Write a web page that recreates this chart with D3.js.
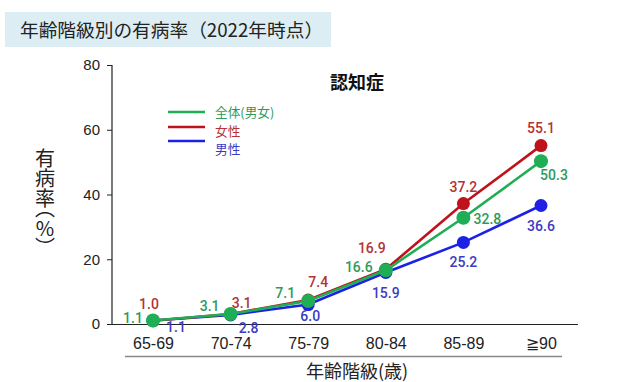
<!DOCTYPE html>
<html><head><meta charset="utf-8">
<script src="https://cdn.jsdelivr.net/npm/d3@7"></script>
<style>
html,body{margin:0;padding:0;background:#fff;}
svg{display:block;}
</style></head>
<body>
<script>
const categories = ["65-69","70-74","75-79","80-84","85-89","≧90"];
const totalValues = [1.1, 3.1, 7.1, 16.6, 32.8, 50.3];
const femaleValues = [1.0, 3.1, 7.4, 16.9, 37.2, 55.1];
const maleValues = [1.1, 2.8, 6.0, 15.9, 25.2, 36.6];
const yTicks = [0, 20, 40, 60, 80];
const seriesNames = ["全体(男女)", "女性", "男性"];

// label offsets (layout only)
const totalOffsets = [[-20,-2],[-21,-8],[-23,-8],[-27,-3],[24,1],[13,14]];
const femaleOffsets = [[-4,-17],[11,-11],[10,-18],[-14,-21],[0,-17],[0,-18]];
const maleOffsets = [[23,7],[18,13],[2,11],[0,20],[0,20],[0,20]];

const W = 618, H = 382;
const svg = d3.select("body").append("svg").attr("width", W).attr("height", H);

// title box
svg.append("rect").attr("x",5).attr("y",12).attr("width",326).attr("height",35).attr("fill","#dcedf4");
svg.append("text").attr("x",20).attr("y",37)
  .attr("font-family","'Noto Sans CJK JP'").attr("font-size",18.7).attr("fill","#222")
  .text("年齢階級別の有病率（2022年時点）");

const x = d3.scalePoint().domain(categories).range([153, 541]);
const y = d3.scaleLinear().domain([0, 80]).range([324, 65]);

// y axis
const yAxis = d3.axisLeft(y).tickValues(yTicks).tickSize(5).tickPadding(7);
const gy = svg.append("g").attr("transform","translate(112,0)").call(yAxis);
gy.select(".domain").attr("stroke","#222").attr("stroke-width",1.2).attr("d","M-5,65.5H0V324");
gy.selectAll(".tick line").attr("stroke","#222");
gy.selectAll(".tick text").attr("font-family","'Liberation Sans', Arial").attr("font-size",15).attr("fill","#222");
gy.selectAll(".tick").filter(d => d===80).select("line").remove();

// x axis
svg.append("line").attr("x1",112).attr("x2",578).attr("y1",324.5).attr("y2",324.5).attr("stroke","#222").attr("stroke-width",1.2);
const xAxis = d3.axisBottom(x).tickSize(0).tickPadding(14);
const gx = svg.append("g").attr("transform","translate(0,324)").call(xAxis);
gx.select(".domain").remove();
gx.selectAll(".tick text").attr("font-family","'Liberation Sans', Arial").attr("font-size",16).attr("fill","#222");

svg.append("line").attr("x1",125).attr("x2",562).attr("y1",356.5).attr("y2",356.5).attr("stroke","#888").attr("stroke-width",1.5);
svg.append("text").attr("x",357).attr("y",378).attr("text-anchor","middle")
  .attr("font-family","'Noto Sans CJK JP'").attr("font-size",18).attr("fill","#222").text("年齢階級(歳)");

// y title vertical (single text, vertical writing mode)
svg.append("text").attr("x",45).attr("y",148)
  .attr("font-family","'Noto Sans CJK JP'").attr("font-size",20).attr("fill","#222")
  .style("writing-mode","vertical-rl").style("text-orientation","upright")
  .style("font-feature-settings","'vpal'").style("letter-spacing","0px")
  .text("有病率（%）");

// chart subtitle
svg.append("text").attr("x",357).attr("y",89).attr("text-anchor","middle")
  .attr("font-family","'Noto Sans CJK JP'").attr("font-size",18).attr("font-weight","bold").attr("fill","#111").text("認知症");

const series = [
  {name: seriesNames[2], values: maleValues, color:"#1b22e6", label:"#3b3bc4", r:6.5, offs: maleOffsets},
  {name: seriesNames[1], values: femaleValues, color:"#c0121a", label:"#b43236", r:6.5, offs: femaleOffsets},
  {name: seriesNames[0], values: totalValues, color:"#1fae55", label:"#2e9a5c", r:7, offs: totalOffsets}
];

// legend
const legendOrder = [series[2], series[1], series[0]];
const legY = [112, 127, 141];
const legTY = [117, 135.5, 154];
legendOrder.forEach((s,i)=>{
  svg.append("line").attr("x1",168).attr("x2",205).attr("y1",legY[i]).attr("y2",legY[i]).attr("stroke",s.color).attr("stroke-width",2.5);
  svg.append("text").attr("x",215).attr("y",legTY[i]).attr("font-family","'Noto Sans CJK JP'").attr("font-size",12.7)
    .attr("fill",s.label).text(s.name);
});

const line = d3.line().x((d,i)=>x(categories[i])).y(d=>y(d));
series.forEach(s=>{
  svg.append("path").datum(s.values).attr("d",line).attr("fill","none").attr("stroke",s.color).attr("stroke-width",2.6);
  svg.append("g").selectAll("circle").data(s.values).join("circle")
    .attr("cx",(d,i)=>x(categories[i])).attr("cy",d=>y(d)).attr("r",s.r).attr("fill",s.color);
});
series.forEach(s=>{
  svg.append("g").selectAll("text").data(s.values).join("text")
    .attr("x",(d,i)=>x(categories[i]) + s.offs[i][0])
    .attr("y",(d,i)=>y(d) + s.offs[i][1] + 5)
    .attr("text-anchor","middle")
    .attr("font-family","Roboto, 'Liberation Sans', Arial").attr("font-size",14).attr("font-weight",500)
    .attr("fill",s.label).text(d=>d.toFixed(1));
});
</script>
</body></html>
